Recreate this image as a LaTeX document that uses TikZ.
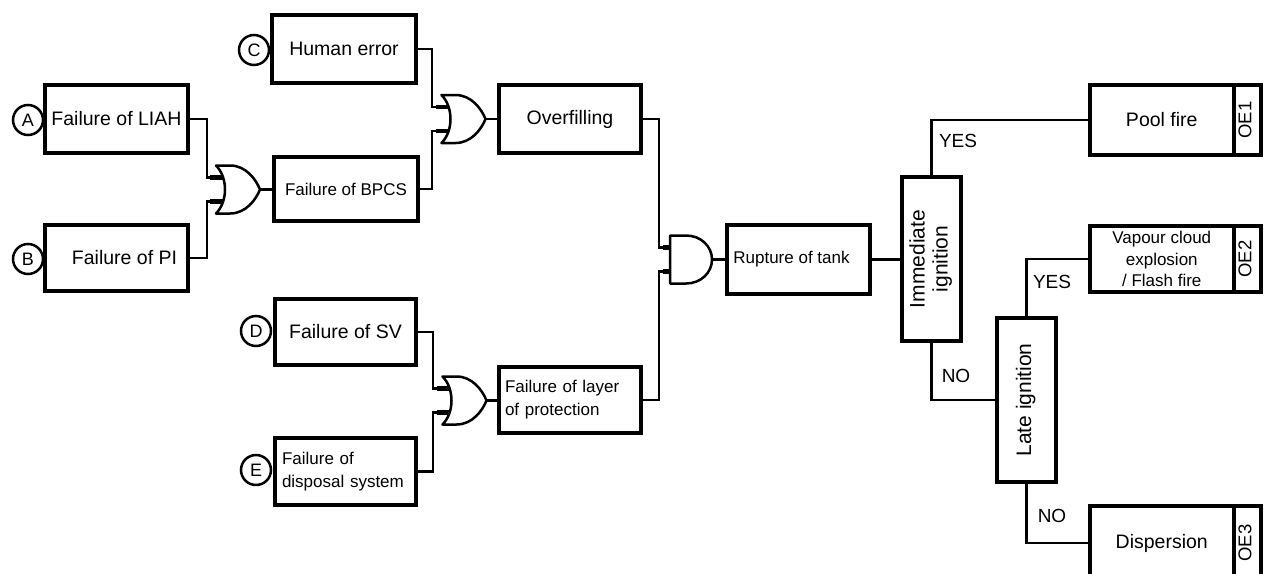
\documentclass[tikz,border=0pt]{standalone}
\usepackage{fontspec}
\setmainfont{Liberation Sans}
\usepackage{graphicx}

% vertical (bottom-to-top) text, possibly on several lines
\newcommand\uptext[1]{\rotatebox{90}{\begin{tabular}{@{}c@{}}#1\end{tabular}}}

\tikzset{
  evt/.style={draw, rectangle, line width=4pt, inner sep=0pt, fill=white,
    font=\fontsize{19.5}{23}\selectfont},
  small/.style={font=\fontsize{17}{23}\selectfont},
  vert/.style={font=\fontsize{21}{23}\selectfont},
  oetag/.style={font=\fontsize{18.5}{20}\selectfont},
  tag/.style={draw, circle, line width=2.5pt, minimum size=30pt, inner sep=0pt,
    fill=white, font=\fontsize{18}{18}\selectfont},
  wire/.style={line width=2.5pt},
  stub/.style={line width=4.5pt},
  gate/.style={line width=2.5pt, fill=white, line join=round},
  branch/.style={inner sep=0pt, font=\fontsize{19}{19}\selectfont},
  pics/orgate/.style={code={
    \draw[stub] (-28,-12) -- (-14,-12);
    \draw[stub] (-28,12) -- (-14,12);
    \draw[gate] (-22,-24) -- (-8,-24) .. controls (8,-24) and (18,-10) .. (22,0)
      .. controls (18,10) and (8,24) .. (-8,24) -- (-22,24)
      .. controls (-10,12) and (-10,-12) .. (-22,-24) -- cycle;
    \coordinate (-in1) at (-24,-12);
    \coordinate (-in2) at (-24,12);
    \coordinate (-out) at (22,0);
  }},
  pics/andgate/.style={code={
    \draw[stub] (-28,-12) -- (-20,-12);
    \draw[stub] (-28,12) -- (-20,12);
    \draw[gate] (-21,-24) -- (-5,-24) .. controls (10,-24) and (21,-13) .. (21,0)
      .. controls (21,13) and (10,24) .. (-5,24) -- (-21,24) -- cycle;
    \coordinate (-in1) at (-24,-12);
    \coordinate (-in2) at (-24,12);
    \coordinate (-out) at (21,0);
  }},
}

\begin{document}
\begin{tikzpicture}[x=1pt, y=-1pt]
\clip (0,0) rectangle (1266,573);

% ---------- basic events and intermediate events ----------
\node[evt, minimum width=143pt, minimum height=68pt] (liah) at (116.5,119) {Failure of LIAH};
\node[evt, minimum width=143pt, minimum height=66pt] (pi) at (116.5,258) {\hspace*{16pt}Failure of PI};
\node[evt, minimum width=144pt, minimum height=68pt] (human) at (344,49) {Human error};
\node[evt, small, minimum width=144pt, minimum height=64pt] (bpcs) at (346,189) {Failure of BPCS};
\node[evt, minimum width=142pt, minimum height=68pt] (over) at (570,119) {Overfilling};
\node[evt, minimum width=141pt, minimum height=66pt] (sv) at (345.5,332) {Failure of SV};
\node[evt, small, minimum width=141pt, minimum height=67pt, text width=127pt, align=left]
  (disp) at (345.5,471.5) {Failure of\\disposal system};
\node[evt, small, minimum width=142pt, minimum height=66pt, text width=130pt, align=left]
  (layer) at (570,400) {Failure of layer\\of protection};
\node[evt, small, minimum width=143pt, minimum height=69pt] (tank) at (798.5,259.5) {Rupture of tank\hspace*{14pt}};

% ---------- event tree ----------
\node[evt, vert, minimum width=59pt, minimum height=164pt] (imm) at (931.5,259) {\uptext{Immediate\\ignition}};
\node[evt, vert, minimum width=59pt, minimum height=164pt] (late) at (1026.5,400) {\uptext{Late ignition}};

\node[evt, minimum width=143.5pt, minimum height=70pt] (pool) at (1161.75,120) {Pool fire};
\node[evt, oetag, minimum width=27.5pt, minimum height=70pt] (oe1) at (1247.25,120) {\uptext{OE1}};
\node[evt, minimum width=143.5pt, minimum height=66pt, align=center, font=\fontsize{17}{21.5}\selectfont]
  (vce) at (1161.75,259) {Vapour cloud\\explosion\\/ Flash fire};
\node[evt, oetag, minimum width=27.5pt, minimum height=66pt] (oe2) at (1247.25,259) {\uptext{OE2}};
\node[evt, minimum width=143.5pt, minimum height=74pt] (disper) at (1161.75,543) {Dispersion};
\node[evt, oetag, minimum width=27.5pt, minimum height=74pt] (oe3) at (1247.25,543) {\uptext{OE3}};

% ---------- event labels ----------
\node[tag] (ta) at (28,120) {A};
\node[tag] (tb) at (28,259) {B};
\node[tag] (tc) at (254,50) {C};
\node[tag] (td) at (256,331) {D};
\node[tag] (te) at (256,470) {E};

% ---------- gates ----------
\pic (g1) at (238,189.5) {orgate};
\pic (g2) at (463.5,119) {orgate};
\pic (g3) at (464.5,400.5) {orgate};
\pic (g4) at (691,259.5) {andgate};

% ---------- fault tree connections ----------
\draw[wire] (liah.east) -- ++(17,0) |- (g1-in1);
\draw[wire] (pi.east) -- ++(17,0) |- (g1-in2);
\draw[wire] (g1-out) -- (g1-out -| bpcs.west);
\draw[wire] (human.east) -- ++(14,0) |- (g2-in1);
\draw[wire] (bpcs.east) -- ++(12,0) |- (g2-in2);
\draw[wire] (g2-out) -- (g2-out -| over.west);
\draw[wire] (sv.east) -- ++(15,0) |- (g3-in1);
\draw[wire] (disp.east) -- ++(15,0) |- (g3-in2);
\draw[wire] (g3-out) -- (g3-out -| layer.west);
\draw[wire] (over.east) -- ++(16,0) |- (g4-in1);
\draw[wire] (layer.east) -- ++(16,0) |- (g4-in2);
\draw[wire] (g4-out) -- (g4-out -| tank.west);

% ---------- event tree branches ----------
\draw[wire] (tank.east) -- (tank.east -| imm.west);
\draw[wire] (imm.north) |- (pool.west);
\draw[wire] (imm.south) |- (late.west);
\draw[wire] (late.north) |- (vce.west);
\draw[wire] (late.south) |- (disper.west);

\node[branch] (yes1) at (958,141) {YES};
\node[branch] (no1) at (956,376) {NO};
\node[branch] (yes2) at (1052,282) {YES};
\node[branch] (no2) at (1052,516) {NO};
\end{tikzpicture}
\end{document}
